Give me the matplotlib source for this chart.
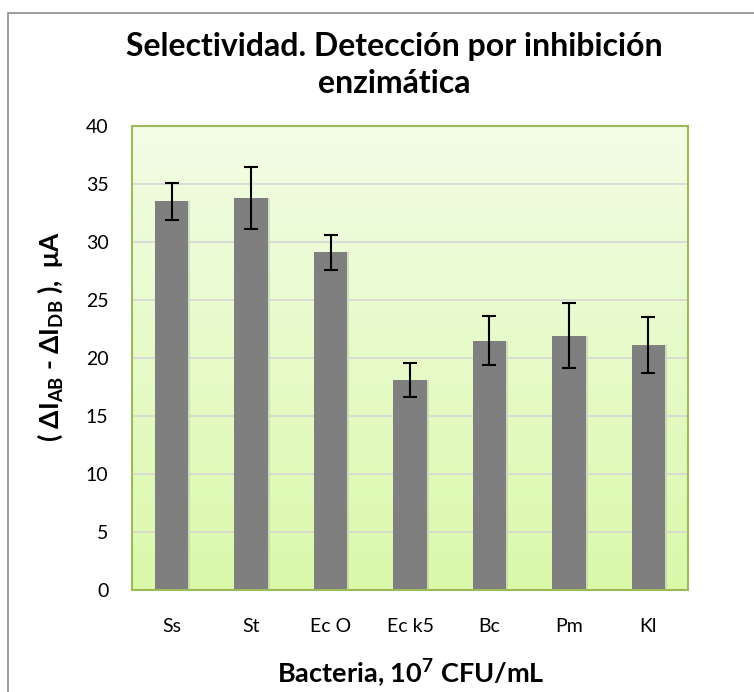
import numpy as np
import matplotlib
matplotlib.use('Agg')
import matplotlib.pyplot as plt
from matplotlib.patches import Rectangle
from matplotlib.colors import LinearSegmentedColormap

plt.rcParams['font.family'] = ['Lato', 'DejaVu Sans']
plt.rcParams['mathtext.fontset'] = 'custom'
plt.rcParams['mathtext.rm'] = 'Lato:bold'
plt.rcParams['mathtext.bf'] = 'Lato:bold'

categories = ['Ss', 'St', 'Ec O', 'Ec k5', 'Bc', 'Pm', 'Kl']
means = [33.5, 33.8, 29.1, 18.1, 21.5, 21.9, 21.1]
errors = [1.6, 2.65, 1.5, 1.5, 2.1, 2.8, 2.4]

fig = plt.figure(figsize=(7.54, 6.92), dpi=100)
ax = fig.add_axes([132 / 754, 1 - 590 / 692, 556 / 754, 464 / 692])

# outer chart frame
fig.patches.append(Rectangle((8 / 754, -0.01), 1.0, 1 - 13 / 692 + 0.01,
                             transform=fig.transFigure, fill=False,
                             edgecolor='#8c8c8c', linewidth=1.2))

# light green vertical gradient behind the bars
grad = LinearSegmentedColormap.from_list('bg', ['#dbf8aa', '#f2fde6'])
ax.imshow(np.linspace(0, 1, 256).reshape(-1, 1), cmap=grad, origin='lower',
          extent=[-0.5, len(categories) - 0.5, 0, 40], aspect='auto', zorder=0)

x = np.arange(len(categories))
# soft shadow then bars
ax.bar(x + 0.02, means, width=0.43, color='#a8a8a8', alpha=0.35, zorder=2)
ax.bar(x, means, width=0.42, color='#7f7f7f', zorder=3,
       yerr=errors, capsize=5, error_kw=dict(ecolor='black', elinewidth=1.5,
                                               capthick=1.5, zorder=4))

ax.set_xlim(-0.5, len(categories) - 0.5)
ax.set_ylim(0, 40)
ax.set_yticks(range(0, 41, 5))
ax.yaxis.grid(True, color='#d6d6d6', linewidth=1.2)
ax.set_axisbelow(False)
for g in ax.get_ygridlines():
    g.set_zorder(1)
ax.set_xticks(x)
ax.set_xticklabels(categories)
ax.tick_params(length=0, labelsize=14, colors='black')
ax.tick_params(axis='x', pad=20)
ax.tick_params(axis='y', pad=17)
for s in ax.spines.values():
    s.set_color('#9bbb59')
    s.set_linewidth(1.5)
    s.set_zorder(5)

fig.text(394 / 754, 1 - 65 / 692, 'Selectividad. Detección por inhibición\nenzimática',
         ha='center', va='center', fontsize=23, fontweight='bold',
         linespacing=1.3)
fig.text(50 / 754, 1 - 337 / 692,
         r'( ΔI$_{\mathrm{AB}}$ - ΔI$_{\mathrm{DB}}$ ),  μA',
         rotation=90, ha='center', va='center', fontsize=19, fontweight='bold')
fig.text(411 / 754, 1 - 673 / 692, r'Bacteria, 10$^{7}$ CFU/mL',
         ha='center', va='center', fontsize=19.5, fontweight='bold')

fig.savefig('out.png', dpi=100, facecolor='white')
